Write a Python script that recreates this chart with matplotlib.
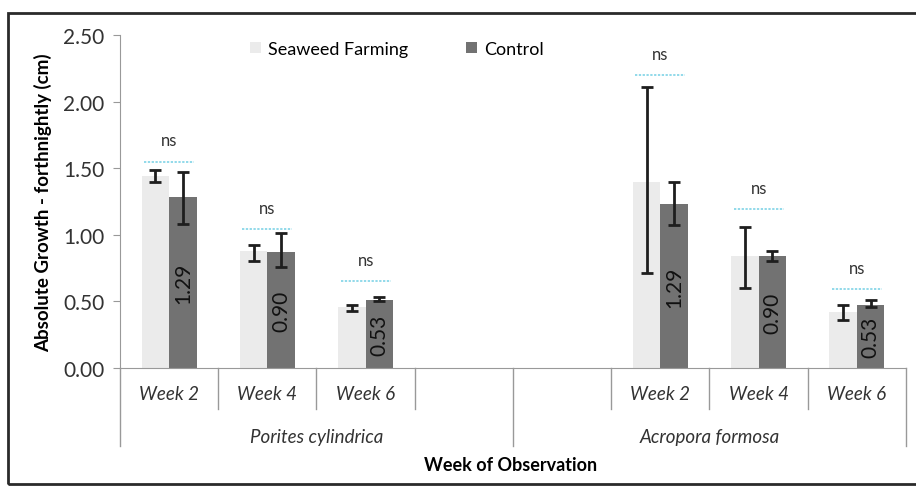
import matplotlib.pyplot as plt
from matplotlib.patches import Rectangle
import matplotlib.transforms as mtransforms

# category slots along the x axis (blank slots are empty)
categories = ["Week 2", "Week 4", "Week 6", "", "", "Week 2", "Week 4", "Week 6"]
species = ["Porites cylindrica", "Acropora formosa"]

seaweed = [1.44, 0.88, 0.46, 1.40, 0.84, 0.42]
seaweed_low = [1.40, 0.80, 0.43, 0.71, 0.60, 0.36]
seaweed_high = [1.49, 0.92, 0.47, 2.11, 1.06, 0.47]

control = [1.28, 0.87, 0.51, 1.23, 0.84, 0.47]
control_low = [1.08, 0.76, 0.50, 1.07, 0.80, 0.46]
control_high = [1.47, 1.01, 0.53, 1.40, 0.88, 0.51]
control_labels = ["1.29", "0.90", "0.53", "1.29", "0.90", "0.53"]

ns_level = [1.55, 1.04, 0.65, 2.20, 1.19, 0.59]

plt.rcParams['font.family'] = ['Lato', 'DejaVu Sans']

fig = plt.figure(figsize=(9.16, 4.89), dpi=100)
ax = fig.add_axes([0.131, 0.2454, 0.858, 0.681])

slots = [i for i, c in enumerate(categories) if c]
w = 0.28
xs = [s - w / 2 for s in slots]
xc = [s + w / 2 for s in slots]

ax.bar(xs, seaweed, width=w, color='#ebebeb', label='Seaweed Farming')
ax.bar(xc, control, width=w, color='#727272', label='Control')

err_kw = dict(fmt='none', ecolor='#1e1e1e', elinewidth=2, capsize=4, capthick=2)
ax.errorbar(xs, seaweed, yerr=[[v - lo for v, lo in zip(seaweed, seaweed_low)],
                               [hi - v for v, hi in zip(seaweed, seaweed_high)]], **err_kw)
ax.errorbar(xc, control, yerr=[[v - lo for v, lo in zip(control, control_low)],
                               [hi - v for v, hi in zip(control, control_high)]], **err_kw)

for x, v, lab in zip(xc, control, control_labels):
    ax.text(x, v / 2, lab, rotation=90, ha='center', va='center', fontsize=15, color='#111111')

for s, lvl in zip(slots, ns_level):
    ax.plot([s - 0.255, s + 0.255], [lvl, lvl], color='#74d0e4', lw=1.1, ls=(0, (1.5, 1)))
    ax.text(s, lvl + 0.1, 'ns', ha='center', va='bottom', fontsize=12, color='#333333')

ax.set_xlim(-0.5, len(categories) - 0.5)
ax.set_ylim(0, 2.5)
ax.set_yticks([0, 0.5, 1.0, 1.5, 2.0, 2.5])
ax.set_yticklabels([f"{t:.2f}" for t in ax.get_yticks()], fontsize=15, color='#333333')
ax.tick_params(axis='y', length=5, color='#999999', pad=6)
ax.set_xticks([])
for side in ['top', 'right']:
    ax.spines[side].set_visible(False)
ax.spines['left'].set_color('#999999')
ax.spines['bottom'].set_color('#999999')

# category axis with two levels
trans = mtransforms.blended_transform_factory(ax.transData, ax.transAxes)
n = len(categories)
half = n // 2
for b in range(n + 1):
    x = b - 0.5
    low = -0.234 if b in (0, half, n) else -0.123
    ax.plot([x, x], [0, low], transform=trans, color='#999999', lw=1, clip_on=False)
for i, c in enumerate(categories):
    if c:
        ax.text(i, -0.078, c, transform=trans, ha='center', va='center',
                fontsize=13.5, style='italic', color='#333333')
for g, name in enumerate(species):
    ax.text(g * half + (half - 1) / 2, -0.207, name, transform=trans, ha='center',
            va='center', fontsize=13.5, style='italic', color='#333333')

ax.set_ylabel('Absolute Growth - forthnightly (cm)', fontsize=13.5, fontweight='bold', labelpad=8)
fig.text(0.557, 1 - 466 / 489, 'Week of Observation', ha='center', va='center',
         fontsize=13, fontweight='bold')

ax.legend(loc='center', bbox_to_anchor=(0.352, 0.958), ncol=2, frameon=False,
          fontsize=13, handlelength=0.6, handleheight=0.6, handletextpad=0.4,
          columnspacing=3.2)

fig.patches.append(Rectangle((8 / 916, 1 - 485 / 489), 1.0, 471 / 489, transform=fig.transFigure,
                             fill=False, edgecolor='#2a2a2a', lw=2))

fig.savefig('out.png', dpi=100)
